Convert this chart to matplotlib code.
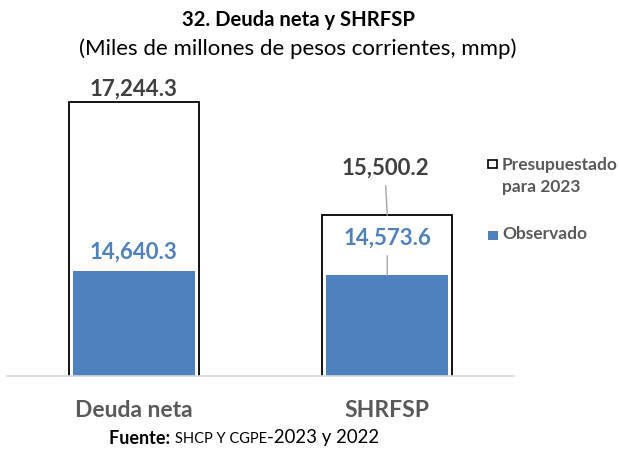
import matplotlib
matplotlib.use("Agg")
import matplotlib.pyplot as plt
from matplotlib.patches import Rectangle
import numpy as np

categories = ["Deuda neta", "SHRFSP"]
presupuestado = [17244.3, 15500.2]
observado = [14640.3, 14573.6]
legend_labels = ["Presupuestado\npara 2023", "Observado"]
title = "32. Deuda neta y SHRFSP"
subtitle = "(Miles de millones de pesos corrientes, mmp)"

W, H = 619, 449
DPI = 100
BLUE = "#4F81BD"
DARK = "#404040"
GRAY = "#595959"
FONT = ["Lato", "DejaVu Sans"]
plt.rcParams["font.family"] = FONT

fig = plt.figure(figsize=(W / DPI, H / DPI), dpi=DPI)

def fx(px):
    return px / W

def fy(py):
    return 1 - py / H

ax_l, ax_r, ax_b, ax_t = 7, 514, 376, 75
ax = fig.add_axes([fx(ax_l), fy(ax_b), fx(ax_r - ax_l), fy(ax_t) - fy(ax_b)])

x = np.arange(len(categories))
ax.bar(x, presupuestado, width=0.513, color="white", edgecolor="black",
       linewidth=1.3, zorder=2)
ax.bar(x, observado, width=0.483, color=BLUE, edgecolor="none", zorder=3)

ax.set_xlim(-0.5, 1.5)
ax.set_ylim(13022, 17660)

for s in ["top", "right", "left"]:
    ax.spines[s].set_visible(False)
ax.spines["bottom"].set_color("#D9D9D9")
ax.spines["bottom"].set_linewidth(1.2)
ax.spines["bottom"].set_zorder(4)
ax.set_yticks([])
ax.set_xticks(x)
ax.set_xticklabels(categories, fontsize=16.5, fontweight="bold", color=GRAY)
ax.tick_params(axis="x", length=0, pad=17)

# Data labels
pres_offsets = [13, 47]
obs_offsets = [19, 37]
for i in range(len(categories)):
    arrow = None
    if i > 0:
        arrow = dict(arrowstyle="-", color="#A6A6A6", lw=1,
                     relpos=(0.5, 0.0), shrinkA=3, shrinkB=0)
    ax.annotate(f"{presupuestado[i]:,.1f}", xy=(x[i], presupuestado[i]),
                xytext=(-2 if i else 0, pres_offsets[i]),
                textcoords="offset pixels", ha="center", va="center",
                fontsize=16, fontweight="bold", color=DARK, zorder=5,
                arrowprops=arrow)
    arrow = None
    if i > 0:
        arrow = dict(arrowstyle="-", color="#A6A6A6", lw=1,
                     relpos=(0.5, 0.0), shrinkA=3, shrinkB=0)
    ax.annotate(f"{observado[i]:,.1f}", xy=(x[i], observado[i]),
                xytext=(0, obs_offsets[i]),
                textcoords="offset pixels", ha="center", va="center",
                fontsize=16, fontweight="bold", color=BLUE, zorder=5,
                arrowprops=arrow)

# Titles
fig.text(fx(299), fy(20), title, ha="center", va="center", fontsize=14.6,
         fontweight="bold", color="black")
fig.text(fx(298), fy(49), subtitle, ha="center", va="center", fontsize=16,
         color="black")

# Legend (manual)
sq = 8.5
fig.patches.append(Rectangle((fx(488), fy(168)), fx(sq), fy(0) - fy(sq),
                             transform=fig.transFigure, facecolor="white",
                             edgecolor="black", linewidth=1.2))
fig.text(fx(502), fy(176), legend_labels[0], ha="left", va="center",
         fontsize=12.5, fontweight="bold", color=GRAY, linespacing=1.45)
fig.patches.append(Rectangle((fx(488), fy(240)), fx(sq + 1), fy(0) - fy(sq + 1),
                             transform=fig.transFigure, facecolor=BLUE,
                             edgecolor="none"))
fig.text(fx(502), fy(234), legend_labels[1], ha="left", va="center",
         fontsize=12.5, fontweight="bold", color=GRAY)

# Footer
t1 = fig.text(fx(109), fy(438), "Fuente: ", ha="left", va="center", fontsize=13,
              fontweight="bold", color="black")
fig.canvas.draw()
bb = t1.get_window_extent()
t2 = fig.text(bb.x1 / W, fy(439), "SHCP Y CGPE", ha="left", va="center",
              fontsize=10.5, color="black")
bb2 = t2.get_window_extent()
fig.text(bb2.x1 / W, fy(438), "-2023 y 2022", ha="left", va="center",
         fontsize=13.4, color="black")

fig.savefig("out.png", dpi=DPI)
